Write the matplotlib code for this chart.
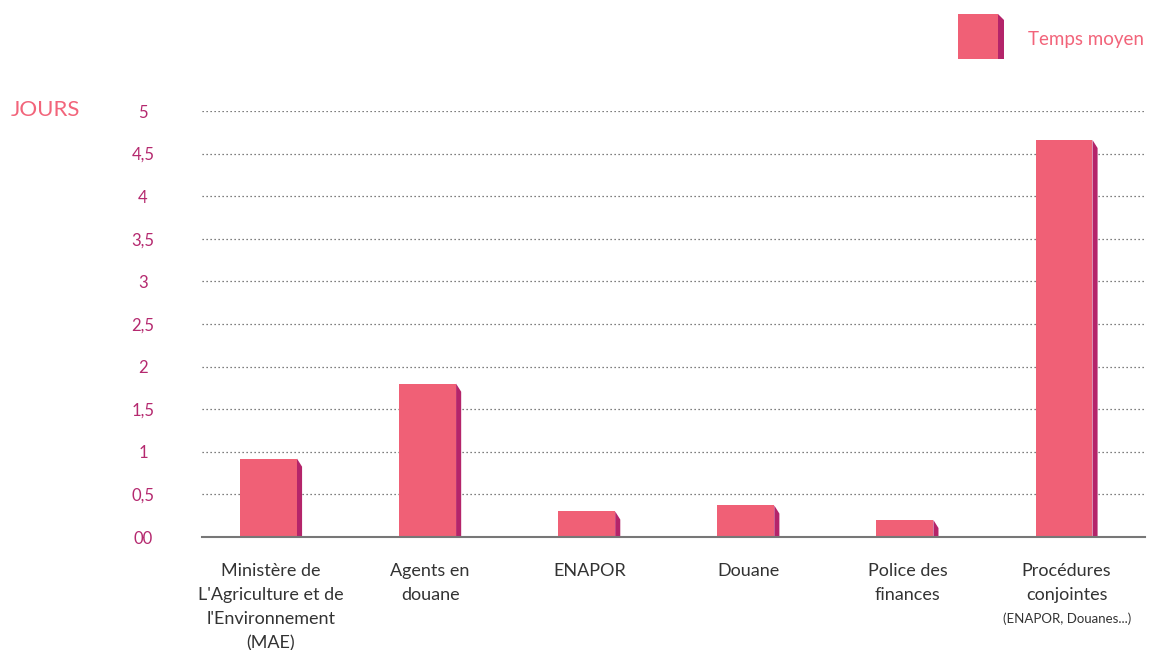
import matplotlib
matplotlib.use("Agg")
import matplotlib.pyplot as plt
from matplotlib.patches import Polygon, Rectangle

categories = ["Ministère de\nL'Agriculture et de\nl'Environnement\n(MAE)",
              "Agents en\ndouane", "ENAPOR", "Douane", "Police des\nfinances",
              "Procédures\nconjointes"]
sub_label = "(ENAPOR, Douanes...)"
values = [0.92, 1.80, 0.30, 0.37, 0.20, 4.66]
yticks = [0, 0.5, 1, 1.5, 2, 2.5, 3, 3.5, 4, 4.5, 5]
ytick_labels = ["00", "0,5", "1", "1,5", "2", "2,5", "3", "3,5", "4", "4,5", "5"]
series_name = "Temps moyen"
axis_title = "JOURS"

FRONT = "#F06076"
SIDE = "#B4246A"
TICKC = "#B5296F"
CORAL = "#F2647A"
TEXTC = "#333333"
FONT = "Lato"

W, H = 1149, 650
fig = plt.figure(figsize=(W / 100, H / 100), dpi=100)
ax = fig.add_axes([202 / W, 1 - 537 / H, (1145 - 202) / W, (537 - 111) / H])

bw = 0.358
depth = 0.032
slant = 0.095
xs = list(range(len(values)))
ax.bar(xs, values, width=bw, color=FRONT, zorder=3, linewidth=0)
for x, v in zip(xs, values):
    r = x + bw / 2
    s = min(slant, v)
    ax.add_patch(Polygon([(r, v), (r + depth, v - s), (r + depth, 0), (r, 0)],
                         closed=True, facecolor=SIDE, edgecolor="none", zorder=3))

ax.set_xlim(-0.418, 5.509)
ax.set_ylim(0, 5)
ax.set_yticks(yticks)
ax.set_yticklabels(ytick_labels)
ax.yaxis.grid(True, linestyle=(0, (1, 2.2)), color="#555555", linewidth=0.9, zorder=0)
ax.set_axisbelow(True)
for sp in ["top", "right", "left"]:
    ax.spines[sp].set_visible(False)
ax.spines["bottom"].set_color("#777777")
ax.spines["bottom"].set_linewidth(1.5)
ax.spines["bottom"].set_zorder(4)

ax.tick_params(axis="y", length=0, pad=42.5, labelsize=12, labelcolor=TICKC)
for lab in ax.get_yticklabels():
    lab.set_horizontalalignment("center")
    lab.set_fontfamily(FONT)

ax.set_xticks([x + depth / 2 for x in xs])
ax.set_xticklabels(categories, fontsize=13, color=TEXTC, fontfamily=FONT,
                   linespacing=1.63)
ax.tick_params(axis="x", length=0, pad=18.5)

fig.text((1064 + 3) / W, 1 - 619 / H, sub_label, ha="center", va="center",
         fontsize=9.5, color=TEXTC, fontfamily=FONT)

fig.text(45 / W, 1 - 110 / H, axis_title, ha="center", va="center",
         fontsize=16, color=CORAL, fontfamily=FONT)

# legend
fig.patches.append(Rectangle((958 / W, 1 - 59 / H), 40 / W, 45 / H,
                             transform=fig.transFigure, facecolor=FRONT,
                             edgecolor="none"))
fig.patches.append(Polygon([(998 / W, 1 - 14 / H), (1004 / W, 1 - 20 / H),
                            (1004 / W, 1 - 59 / H), (998 / W, 1 - 59 / H)],
                           closed=True, transform=fig.transFigure,
                           facecolor=SIDE, edgecolor="none"))
fig.text(1028 / W, 1 - 40 / H, series_name, ha="left", va="center",
         fontsize=13.5, color=CORAL, fontfamily=FONT)

fig.savefig("out.png", dpi=100)
